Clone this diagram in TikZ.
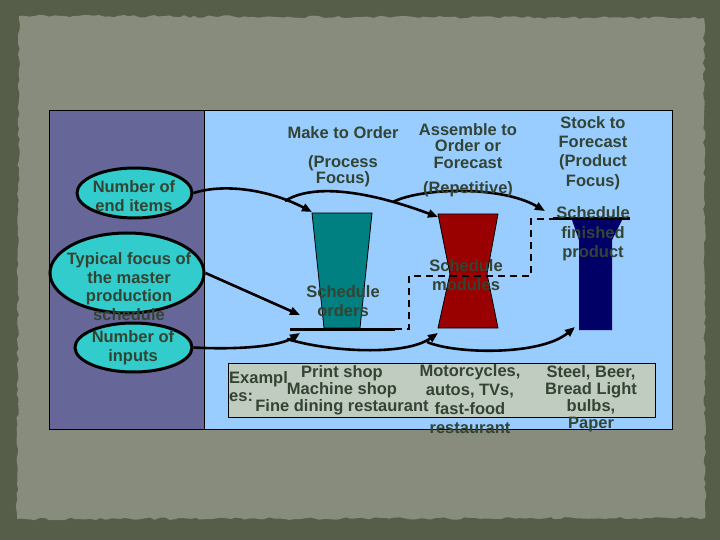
\documentclass[tikz,border=0pt]{standalone}
\usepackage{fontspec}
\setmainfont{Liberation Sans}
\usetikzlibrary{arrows.meta,shapes.geometric,decorations.pathmorphing}
\definecolor{bgdark}{RGB}{86,94,74}
\definecolor{paper}{RGB}{136,140,124}
\definecolor{leftp}{RGB}{102,102,153}
\definecolor{rightp}{RGB}{153,204,255}
\definecolor{ellc}{RGB}{51,204,204}
\definecolor{tealc}{RGB}{0,128,128}
\definecolor{redc}{RGB}{153,0,0}
\definecolor{navyc}{RGB}{0,0,102}
\definecolor{exboxc}{RGB}{192,204,192}
\definecolor{txtc}{RGB}{51,68,51}
\tikzset{
  txt/.style={font=\bfseries\fontsize{16.5}{#1}\selectfont, text=txtc, align=center, inner sep=0pt},
  txt/.default=19,
  arr/.style={line width=2.6pt, -{Triangle[length=10pt,width=8pt]}},
  ell/.style={ellipse, draw=black, line width=3pt, fill=ellc, inner sep=0pt},
  shp/.style={draw=black, line width=0.8pt},
  sched/.style={line width=3pt},
  dashline/.style={line width=2.6pt, dash pattern=on 7pt off 5pt},
}
\begin{document}
\begin{tikzpicture}[x=1pt,y=-1pt]
\useasboundingbox (0,0) rectangle (720,540);
% background and torn paper
\fill[bgdark] (0,0) rectangle (720,540);
\pgfmathsetseed{7}
\fill[paper, decorate, decoration={random steps, segment length=5pt, amplitude=1.3pt}]
  (19,16) -- (704,18) -- (705,518) -- (17,519) -- cycle;
% panels
\fill[leftp] (49,111) rectangle (204,429);
\fill[rightp] (204,111) rectangle (672,429);
\draw[line width=1pt] (49,111) rectangle (672,429);
\draw[line width=1pt] (204,111) -- (204,429);

% ellipses
\node[ell, minimum width=115pt, minimum height=50pt] (e1) at (134.5,193) {};
\node[ell, minimum width=154pt, minimum height=80pt] (e2) at (127,273) {};
\node[ell, minimum width=117pt, minimum height=49pt] (e3) at (133.5,347.5) {};

% shapes
\fill[tealc, shp] (312,213) -- (372,213) -- (360,328) -- (324,328) -- cycle;
\fill[redc, shp] (438,214) -- (498,214) -- (487,274) -- (498,328) -- (438,328) -- (450,274) -- cycle;
\fill[navyc] (572,220) -- (622,220) -- (612,240) -- (612,330) -- (579,330) -- (579,240) -- cycle;

% named points
\coordinate (tealTL) at (312,212);
\coordinate (redTL) at (438,217);
\coordinate (stockTL) at (545,211);
\coordinate (ordL) at (300,315);
\coordinate (ordB) at (300,333);
\coordinate (redBL) at (438,333);
\coordinate (navyBL) at (575,327);
\coordinate (bStart) at (285,201);
\coordinate (cStart) at (393,202);
\coordinate (fStart) at (287,339);
\coordinate (gStart) at (427,342);
\coordinate (lineL) at (290,329);
\coordinate (lineR) at (395,329);
\coordinate (fpL) at (553,219);
\coordinate (fpR) at (630,219);

% schedule lines
\draw[sched] (lineL) -- (lineR);
\draw[sched] (fpL) -- (fpR);
\draw[dashline] (lineR) -- (409,329) -- (409,276) -- (531,276) -- (531,219) -- (fpL);

% connectors
\draw[arr] (e1.east) .. controls (225,183) and (270,190) .. (tealTL);
\draw[arr] (bStart) .. controls (310,185) and (360,188) .. (redTL);
\draw[arr] (cStart) .. controls (420,188) and (500,185) .. (stockTL);
\draw[arr] (e2.east) -- (ordL);
\draw[arr] (e3.east) .. controls (240,350) and (280,346) .. (ordB);
\draw[arr] (fStart) .. controls (330,352) and (405,356) .. (redBL);
\draw[arr] (gStart) .. controls (455,354) and (540,356) .. (navyBL);

% ellipse texts
\node[txt] (t1) at (134,196) {Number of\\end items};
\node[txt=18.5] (t2) at (129,286.5) {Typical focus of\\the master\\production\\schedule};
\node[txt] (t3) at (133,347.5) {Number of\\inputs};

% headings
\node[txt] (h1) at (343,133) {Make to Order};
\node[txt=12] (h2) at (343,171) {(Process\\Focus)};
\node[txt=16.5] (h3) at (468,146) {Assemble to\\Order or\\Forecast};
\node[txt] (h4) at (468,189) {(Repetitive)};
\node[txt=19.3] (h5) at (593,153) {Stock to\\Forecast\\(Product\\Focus)};

% schedule texts
\node[txt] (s1) at (343,301.5) {Schedule\\orders};
\node[txt] (s2) at (466,275.5) {Schedule\\modules};
\node[txt=19.5] (s3) at (593,234) {Schedule\\finished\\product};

% examples
\node[draw=black, line width=1pt, fill=exboxc, minimum width=427pt, minimum height=54pt, inner sep=0pt] (ex) at (441.5,390) {};
\node[txt=18, align=left, anchor=west] (x0) at (229,387) {Exampl\\es:};
\node[txt=17] (x1) at (342,390) {Print shop\\Machine shop\\Fine dining restaurant};
\node[txt] (x2) at (470,399.5) {Motorcycles,\\autos, TVs,\\fast-food\\restaurant};
\node[txt=17] (x3) at (591,398.5) {Steel, Beer,\\Bread Light\\bulbs,\\Paper};
\end{tikzpicture}
\end{document}
